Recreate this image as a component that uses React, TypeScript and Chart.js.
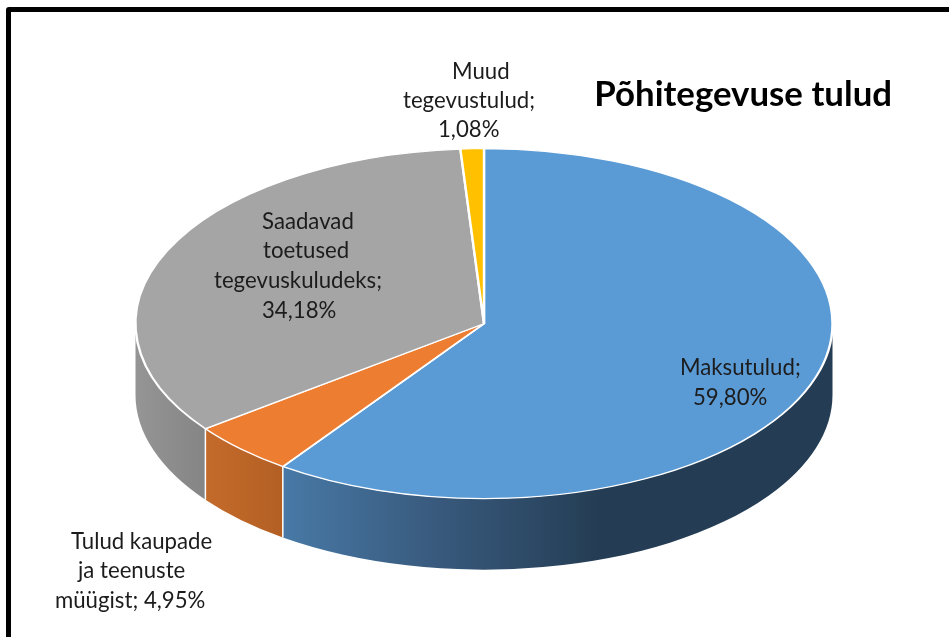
import React, { useEffect, useRef } from "react";
import { Chart, registerables } from "chart.js";

Chart.register(...registerables);

const categories = ["Maksutulud", "Tulud kaupade ja teenuste müügist", "Saadavad toetused tegevuskuludeks", "Muud tegevustulud"];
const shares = [59.8, 4.95, 34.18, 1.08];
const sliceColors = ["#5B9BD5", "#ED7D31", "#A5A5A5", "#FFC000"];
const titleText = "Põhitegevuse tulud";
const labelLines = [
  ["Maksutulud;", "59,80%"],
  ["Tulud kaupade", "ja teenuste", "müügist; 4,95%"],
  ["Saadavad", "toetused", "tegevuskuludeks;", "34,18%"],
  ["Muud", "tegevustulud;", "1,08%"],
];

// Layout only
const WIDTH = 949;
const HEIGHT = 637;
const RADIUS = 348.5;
const SQUASH = 175 / 348.5;
const DEPTH = 71;
const FONT = "Lato, 'Open Sans', sans-serif";
const labelLayout = [
  { xs: [680, 693], y: 367.5, step: 30 },
  { xs: [71, 78, 55], y: 541.5, step: 29.5 },
  { xs: [262, 263, 214, 262], y: 221.5, step: 29.7 },
  { xs: [452, 403, 438], y: 71.5, step: 29 },
];
const wallStops: [number, number, string][][] = [
  [[283, 0, "#4879A6"], [440, 0, "#38597C"], [600, 0, "#243D54"]],
  [[205, 0, "#C46B2B"], [283, 0, "#B35F24"]],
  [[136, 0, "#959595"], [205, 0, "#858585"]],
  [[461, 0, "#CC9A00"], [484, 0, "#CC9A00"]],
];

const pie3d = {
  id: "pie3d",
  beforeDatasetsDraw(chart: any) {
    const { ctx } = chart;
    const arcs = chart.getDatasetMeta(0).data;
    ctx.save();
    arcs.forEach((arc: any, i: number) => {
      const p = arc.getProps(["x", "y", "startAngle", "endAngle", "outerRadius"], true);
      const s = Math.max(p.startAngle, 0);
      const e = Math.min(p.endAngle, Math.PI);
      if (e <= s) return;
      const ry = p.outerRadius * SQUASH;
      const grad = ctx.createLinearGradient(wallStops[i][0][0], 0, wallStops[i][wallStops[i].length - 1][0], 0);
      const x0 = wallStops[i][0][0];
      const span = wallStops[i][wallStops[i].length - 1][0] - x0;
      wallStops[i].forEach(([x, , c]) => grad.addColorStop((x - x0) / span, c));
      ctx.beginPath();
      ctx.ellipse(p.x, p.y, p.outerRadius, ry, 0, s, e);
      ctx.ellipse(p.x, p.y + DEPTH, p.outerRadius, ry, 0, e, s, true);
      ctx.closePath();
      ctx.fillStyle = grad;
      ctx.fill();
    });
    arcs.forEach((arc: any) => {
      const p = arc.getProps(["x", "y", "startAngle", "endAngle", "outerRadius"], true);
      if (p.endAngle > 0 && p.endAngle < Math.PI) {
        const x = p.x + p.outerRadius * Math.cos(p.endAngle);
        const y = p.y + p.outerRadius * SQUASH * Math.sin(p.endAngle);
        ctx.beginPath();
        ctx.moveTo(x, y);
        ctx.lineTo(x, y + DEPTH);
        ctx.strokeStyle = "#ffffff";
        ctx.lineWidth = 1.5;
        ctx.stroke();
      }
    });
    ctx.restore();
    const first = arcs[0];
    ctx.save();
    ctx.translate(first.x, first.y);
    ctx.scale(1, SQUASH);
    ctx.translate(-first.x, -first.y);
  },
  afterDatasetsDraw(chart: any) {
    const { ctx } = chart;
    ctx.restore();
    ctx.save();
    ctx.font = `22.2px ${FONT}`;
    ctx.fillStyle = "#1c1c1c";
    ctx.textAlign = "left";
    ctx.textBaseline = "middle";
    labelLines.forEach((lines, i) => {
      const l = labelLayout[i];
      lines.forEach((t, j) => ctx.fillText(t, l.xs[j], l.y + j * l.step));
    });
    ctx.restore();
  },
};

export default function App() {
  const ref = useRef<HTMLCanvasElement>(null);
  useEffect(() => {
    document.body.style.margin = "0";
    document.body.style.overflow = "hidden";
    const chart = new Chart(ref.current as HTMLCanvasElement, {
      type: "pie",
      data: {
        labels: categories,
        datasets: [
          {
            data: shares,
            backgroundColor: sliceColors,
            borderColor: "#ffffff",
            borderWidth: 2.4,
            radius: RADIUS,
            clip: false,
          } as any,
        ],
      },
      options: {
        animation: false,
        responsive: false,
        layout: { padding: { left: 76, right: 57, top: 0, bottom: 105 } },
        plugins: {
          legend: { display: false },
          tooltip: { enabled: false },
          title: {
            display: true,
            text: titleText,
            align: "end",
            color: "#000000",
            font: { family: FONT, size: 34.8, weight: "bold", lineHeight: 1.2 },
            padding: { top: 73.5, bottom: 0 },
          },
        },
      },
      plugins: [pie3d],
    });
    return () => chart.destroy();
  }, []);
  return (
    <div style={{ position: "relative", width: WIDTH, height: HEIGHT, overflow: "hidden", background: "#fff" }}>
      <div
        style={{
          position: "absolute",
          left: 6,
          top: 7,
          width: 980,
          height: 680,
          border: "5px solid #000",
          borderRadius: 3,
          boxSizing: "border-box",
        }}
      />
      <canvas ref={ref} width={WIDTH} height={HEIGHT} style={{ position: "absolute", left: 0, top: 0, display: "block" }} />
    </div>
  );
}
